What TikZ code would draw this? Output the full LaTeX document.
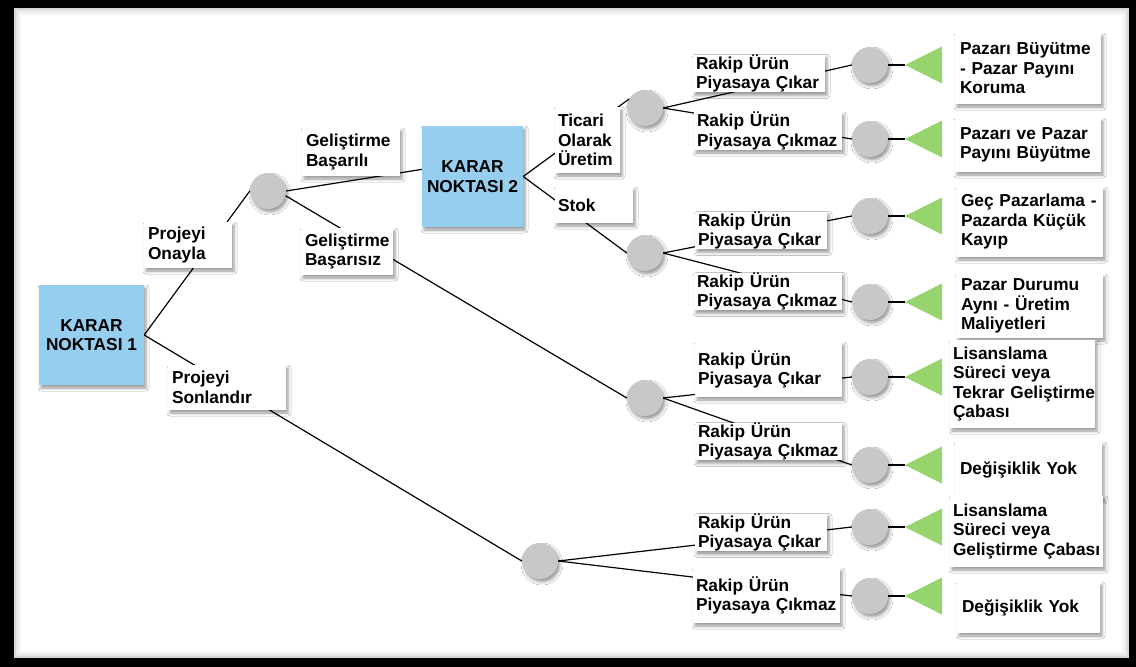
\documentclass[tikz,border=0pt]{standalone}
\usepackage{fontspec}
\setmainfont{Liberation Sans}
\usetikzlibrary{shadows.blur}
\definecolor{dblue}{RGB}{150,206,240}
\definecolor{cgray}{RGB}{200,200,200}
\definecolor{tgreen}{RGB}{150,212,110}
\begin{document}
\begin{tikzpicture}[x=1pt,y=-1pt,
  font=\bfseries\fontsize{17.3}{19.5}\selectfont,
  shd/.style={blur shadow={shadow xshift=2pt,shadow yshift=-3pt,shadow blur radius=3pt,shadow opacity=40}},
  dec/.style={shd,fill=dblue,inner sep=0pt,align=center},
  chance/.style={shd,circle,fill=cgray,minimum size=36pt,inner sep=0pt},
  lbl/.style={shd,fill=white,inner ysep=0pt,inner xsep=#1,align=left},
  lbl/.default=4pt,
  conn/.style={line width=1.2pt,black},
  tri/.style={fill=tgreen}
]
\useasboundingbox (0,0) rectangle (1136,667);
% frame
\fill[black] (0,0) rectangle (1136,667);
\fill[white] (14,8) rectangle (1129,658);
\foreach \i/\o in {1/0.16,3/0.09,5/0.05,7/0.02}
  \draw[black,opacity=\o,line width=2pt] ({14+\i},{8+\i}) rectangle ({1129-\i},{658-\i});

% decision nodes
\node[dec,minimum width=105pt,minimum height=100pt] (k1) at (91.5,335) {KARAR\\NOKTASI~1};
\node[dec,minimum width=101pt,minimum height=101pt] (k2) at (472.5,176.5) {KARAR\\NOKTASI~2};

% chance nodes
\node[chance] (c1) at (268,191) {};
\node[chance] (cA) at (645,108) {};
\node[chance] (cB) at (645,253) {};
\node[chance] (cC) at (645,398) {};
\node[chance] (cD) at (540,561) {};
\node[chance] (r1) at (870,65) {};
\node[chance] (r2) at (870,139) {};
\node[chance] (r3) at (870,216) {};
\node[chance] (r4) at (870,302) {};
\node[chance] (r5) at (870,377) {};
\node[chance] (r6) at (870,465) {};
\node[chance] (r7) at (870,527) {};
\node[chance] (r8) at (870,596) {};

% triangle apexes
\foreach \n/\y in {1/65,2/139,3/216,4/302,5/377,6/465,7/527,8/596}
  \coordinate (t\n) at (905,\y);

% connectors
\draw[conn] (k1.east) -- (c1.west);
\draw[conn] (k1.east) -- (cD.west);
\draw[conn] (c1.east) -- (k2.172);
\draw[conn] (c1.-15) -- (cC.west);
\draw[conn] (k2.east) -- (cA.150);
\draw[conn] (k2.east) -- (cB.west);
\draw[conn] (cA.east) -- (r1.west);
\draw[conn] (cA.east) -- (r2.west);
\draw[conn] (cB.east) -- (r3.west);
\draw[conn] (cB.east) -- (r4.west);
\draw[conn] (cC.east) -- (r5.west);
\draw[conn] (cC.east) -- (r6.west);
\draw[conn] (cD.east) -- (r7.west);
\draw[conn] (cD.east) -- (r8.west);
\foreach \n in {1,...,8}{
  \draw[conn] (r\n.east) -- (t\n);
  \fill[tri] (t\n) -- ++(37,-18.5) -- ++(0,37) -- cycle;
}

% branch labels
\node[lbl,minimum width=88pt,minimum height=46pt,text width=80pt] (lOnay) at (188,245) {Projeyi\\Onayla};
\node[lbl,minimum width=118pt,minimum height=45pt,text width=110pt] (lSon) at (227,387.5) {Projeyi\\Sonlandır};
\node[lbl,minimum width=98pt,minimum height=48pt,text width=90pt] (lBas) at (351,152) {Geliştirme\\Başarılı};
\node[lbl,minimum width=90pt,minimum height=47pt,text width=84pt] (lBsz) at (347,251.5) {Geliştirme\\Başarısız};
\node[lbl=3pt,minimum width=65pt,minimum height=66pt,text width=59pt] (lTic) at (587.5,140) {Ticari\\Olarak\\Üretim};
\node[lbl=3pt,minimum width=78pt,minimum height=36pt,text width=72pt] (lStok) at (594,205) {Stok};

\node[lbl=3pt,minimum width=132pt,minimum height=37pt,text width=126pt] (l1) at (759,73.5) {Rakip~Ürün\\Piyasaya~Çıkar};
\node[lbl=3pt,minimum width=148pt,minimum height=38pt,text width=142pt] (l2) at (768,131) {Rakip~Ürün\\Piyasaya~Çıkmaz};
\node[lbl=3pt,minimum width=132pt,minimum height=35pt,text width=126pt] (l3) at (761,230.5) {Rakip~Ürün\\Piyasaya~Çıkar};
\node[lbl=3pt,minimum width=148pt,minimum height=37pt,text width=142pt] (l4) at (768,291.5) {Rakip~Ürün\\Piyasaya~Çıkmaz};
\node[lbl=3pt,minimum width=147pt,minimum height=55pt,text width=141pt] (l5) at (768.5,369.5) {Rakip~Ürün\\Piyasaya~Çıkar};
\node[lbl=3pt,minimum width=147pt,minimum height=37pt,text width=141pt] (l6) at (768.5,441.5) {Rakip~Ürün\\Piyasaya~Çıkmaz};
\node[lbl=3pt,minimum width=132pt,minimum height=35pt,text width=126pt] (l7) at (761,532.5) {Rakip~Ürün\\Piyasaya~Çıkar};
\node[lbl=3pt,minimum width=147pt,minimum height=55pt,text width=141pt] (l8) at (766.5,595.5) {Rakip~Ürün\\Piyasaya~Çıkmaz};

% outcomes
\node[lbl=5pt,minimum width=146pt,minimum height=71pt,text width=136pt] (o1) at (1028,68.5) {Pazarı~Büyütme\\-~Pazar~Payını\\Koruma};
\node[lbl=5pt,minimum width=146pt,minimum height=54pt,text width=136pt] (o2) at (1028,145) {Pazarı~ve~Pazar\\Payını~Büyütme};
\node[lbl=5pt,minimum width=147pt,minimum height=70pt,text width=137pt] (o3) at (1029.5,222) {Geç~Pazarlama~-\\Pazarda~Küçük\\Kayıp};
\node[lbl=5pt,minimum width=147pt,minimum height=64pt,text width=137pt] (o4) at (1029.5,306) {Pazar~Durumu\\Aynı~-~Üretim\\Maliyetleri};
\node[lbl=3pt,minimum width=145pt,minimum height=88pt,text width=139pt] (o5) at (1022.5,384) {Lisanslama\\Süreci~veya\\Tekrar~Geliştirme\\Çabası};
\node[lbl=5pt,minimum width=147pt,minimum height=56pt,text width=137pt] (o6) at (1028.5,470) {Değişiklik~Yok};
\node[lbl=3pt,minimum width=153pt,minimum height=71pt,text width=147pt] (o7) at (1026.5,531.5) {Lisanslama\\Süreci~veya\\Geliştirme~Çabası};
\node[lbl=5pt,minimum width=143pt,minimum height=51pt,text width=133pt] (o8) at (1028.5,607.5) {Değişiklik~Yok};
\end{tikzpicture}
\end{document}
